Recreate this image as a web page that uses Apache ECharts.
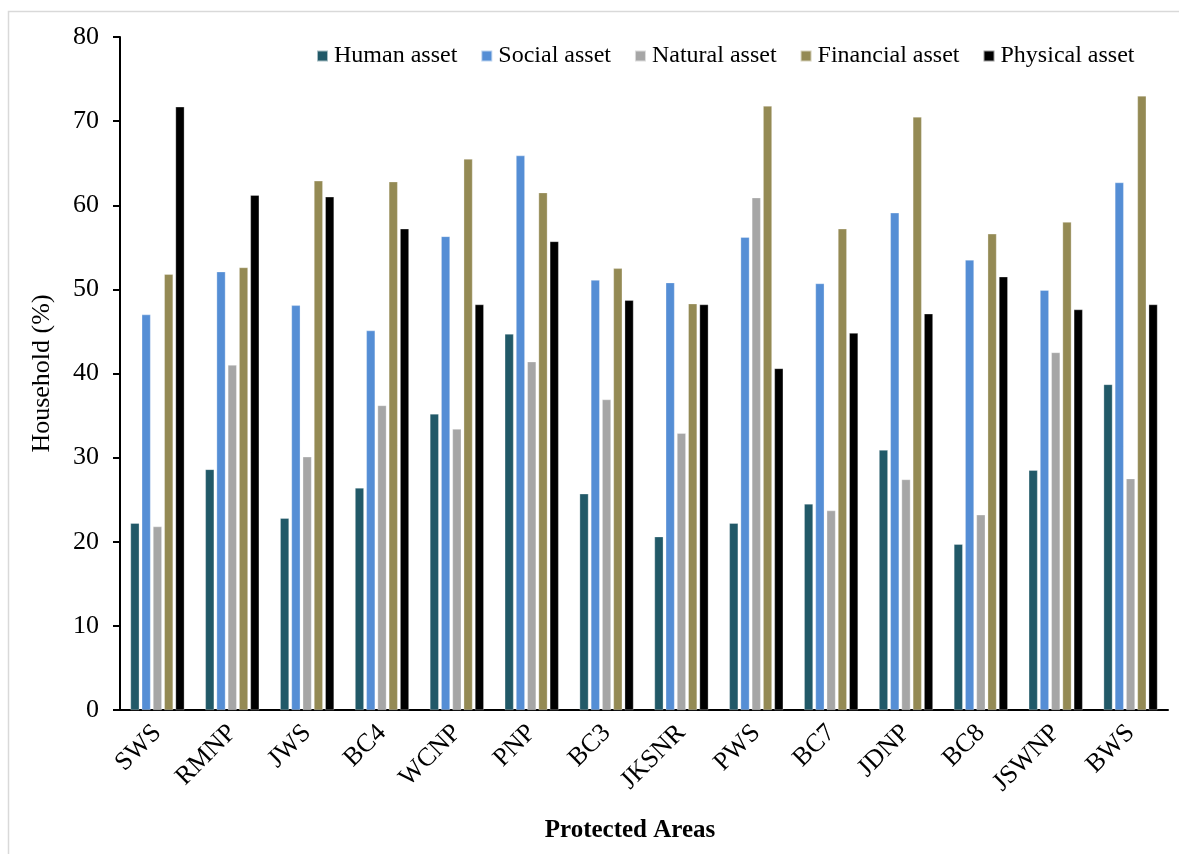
<!DOCTYPE html>
<html>
<head>
<meta charset="utf-8">
<script src="https://cdn.jsdelivr.net/npm/echarts@6/dist/echarts.min.js"></script>
<style>
  html, body { margin: 0; padding: 0; background: #fff; }
  #chart { width: 1179px; height: 854px; }
</style>
</head>
<body>
<div id="chart"></div>
<script>
// Protected areas on the category axis
const areas = ['SWS', 'RMNP', 'JWS', 'BC4', 'WCNP', 'PNP', 'BC3', 'JKSNR', 'PWS', 'BC7', 'JDNP', 'BC8', 'JSWNP', 'BWS'];

// Share of households (%) for each livelihood asset
const humanAsset     = [22.2, 28.6, 22.8, 26.4, 35.2, 44.7, 25.7, 20.6, 22.2, 24.5, 30.9, 19.7, 28.5, 38.7];
const socialAsset    = [47.0, 52.1, 48.1, 45.1, 56.3, 65.9, 51.1, 50.8, 56.2, 50.7, 59.1, 53.5, 49.9, 62.7];
const naturalAsset   = [21.8, 41.0, 30.1, 36.2, 33.4, 41.4, 36.9, 32.9, 60.9, 23.7, 27.4, 23.2, 42.5, 27.5];
const financialAsset = [51.8, 52.6, 62.9, 62.8, 65.5, 61.5, 52.5, 48.3, 71.8, 57.2, 70.5, 56.6, 58.0, 73.0];
const physicalAsset  = [71.7, 61.2, 61.0, 57.2, 48.2, 55.7, 48.7, 48.2, 40.6, 44.8, 47.1, 51.5, 47.6, 48.2];

// Value axis ticks
const yTicks = [0, 10, 20, 30, 40, 50, 60, 70, 80];

const serif = '"Liberation Serif", "Times New Roman", serif';

const seriesDefs = [
  { name: 'Human asset',     data: humanAsset,     color: '#215968' },
  { name: 'Social asset',    data: socialAsset,    color: '#558ED5' },
  { name: 'Natural asset',   data: naturalAsset,   color: '#A6A6A6' },
  { name: 'Financial asset', data: financialAsset, color: '#948A54' },
  { name: 'Physical asset',  data: physicalAsset,  color: '#000000' }
];

const chart = echarts.init(document.getElementById('chart'), null, { renderer: 'canvas' });

chart.setOption({
  animation: false,
  backgroundColor: '#ffffff',
  textStyle: { fontFamily: serif, color: '#000' },
  graphic: [{
    type: 'rect',
    shape: { x: 8.5, y: 11.5, width: 1300, height: 1000 },
    style: { fill: 'none', stroke: '#d9d9d9', lineWidth: 1.5 },
    silent: true
  }],
  legend: {
    left: 316,
    top: 44,
    padding: 0,
    itemWidth: 11,
    itemHeight: 11,
    itemGap: 23,
    icon: 'rect',
    textStyle: { fontFamily: serif, fontSize: 24, color: '#000', padding: [0, 0, 0, 1] },
    data: seriesDefs.map(s => s.name)
  },
  grid: { left: 120, right: 11, top: 37, bottom: 144, containLabel: false },
  xAxis: {
    type: 'category',
    data: areas,
    name: 'Protected Areas',
    nameLocation: 'middle',
    nameGap: 108,
    nameTextStyle: { fontFamily: serif, fontSize: 25, fontWeight: 'bold', color: '#000', padding: [0, 28, 0, 0] },
    axisLine: { lineStyle: { color: '#000', width: 2 } },
    axisTick: { show: false },
    axisLabel: { rotate: 45, fontFamily: serif, fontSize: 26, color: '#000', margin: 19 }
  },
  yAxis: {
    type: 'value',
    min: yTicks[0],
    max: yTicks[yTicks.length - 1],
    interval: yTicks[1] - yTicks[0],
    name: 'Household (%)',
    nameLocation: 'middle',
    nameGap: 65,
    nameTextStyle: { fontFamily: serif, fontSize: 26, color: '#000' },
    axisLine: { show: true, lineStyle: { color: '#000', width: 2 } },
    axisTick: { show: true, inside: false, length: 7, lineStyle: { color: '#000', width: 2 } },
    axisLabel: { fontFamily: serif, fontSize: 26, color: '#000', margin: 21 },
    splitLine: { show: false }
  },
  series: seriesDefs.map(s => ({
    name: s.name,
    type: 'bar',
    data: s.data,
    barWidth: 8.8,
    barGap: '28%',
    itemStyle: { color: s.color, borderColor: 'rgba(255,255,255,0.6)', borderWidth: 0.5 }
  }))
});
</script>
</body>
</html>
